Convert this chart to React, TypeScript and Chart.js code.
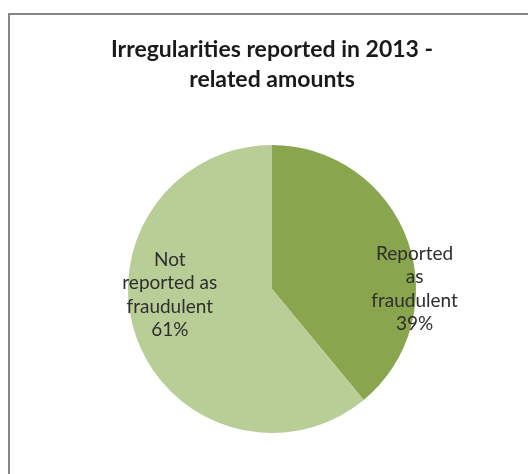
import { useEffect, useRef } from 'react'
import { Chart, registerables } from 'chart.js'
import type { Plugin } from 'chart.js'

Chart.register(...registerables)

const titleLines = ['Irregularities reported in 2013 -', 'related amounts']
const categories = ['Reported as fraudulent', 'Not reported as fraudulent']
const labelLines = [
  ['Reported', 'as', 'fraudulent'],
  ['Not', 'reported as', 'fraudulent'],
]
const shares = [39, 61]
const colors = ['#89A54E', '#B9CD96']

const labelAnchors = [
  { dx: 0.99, dy: 0.0 },
  { dx: -0.71, dy: 0.04 },
]

const sliceLabels: Plugin<'pie'> = {
  id: 'sliceLabels',
  afterDatasetsDraw(chart) {
    const { ctx } = chart
    const meta = chart.getDatasetMeta(0)
    ctx.save()
    ctx.font = '19px Lato'
    ctx.fillStyle = '#2e2e2e'
    ctx.textAlign = 'center'
    ctx.textBaseline = 'middle'
    const lh = 23.4
    meta.data.forEach((el: any, i) => {
      const a = labelAnchors[i]
      const r = el.outerRadius
      const cx = el.x + a.dx * r
      const cy = el.y + a.dy * r
      const lines = [...labelLines[i], `${shares[i]}%`]
      const top = cy - ((lines.length - 1) * lh) / 2
      lines.forEach((t, j) => ctx.fillText(t, cx, top + j * lh))
    })
    ctx.restore()
  },
}

export default function App() {
  const canvasRef = useRef<HTMLCanvasElement>(null)
  const chartRef = useRef<Chart | null>(null)

  useEffect(() => {
    if (!canvasRef.current) return
    chartRef.current = new Chart(canvasRef.current, {
      type: 'pie',
      data: {
        labels: categories,
        datasets: [
          {
            data: shares,
            backgroundColor: colors,
            borderWidth: 0,
          },
        ],
      },
      options: {
        animation: false,
        responsive: false,
        layout: { padding: { left: 16, right: 0, top: 0, bottom: 41 } },
        plugins: {
          legend: { display: false },
          tooltip: { enabled: false },
          title: {
            display: true,
            text: titleLines,
            color: '#1a1a1a',
            font: { family: 'Lato', size: 23, weight: 'bold', lineHeight: 30 / 23 },
            padding: { top: 35, bottom: 50 },
          },
        },
      },
      plugins: [sliceLabels],
    })
    return () => {
      chartRef.current?.destroy()
      chartRef.current = null
    }
  }, [])

  return (
    <div style={{ position: 'fixed', left: 0, top: 0, width: 528, height: 474, overflow: 'hidden', background: '#fff' }}>
      <div
        style={{
          position: 'absolute',
          left: 8,
          top: 13,
          width: 600,
          height: 600,
          border: '2px solid #868686',
        }}
      />
      <canvas ref={canvasRef} width={528} height={474} style={{ position: 'absolute', left: 0, top: 0 }} />
    </div>
  )
}
